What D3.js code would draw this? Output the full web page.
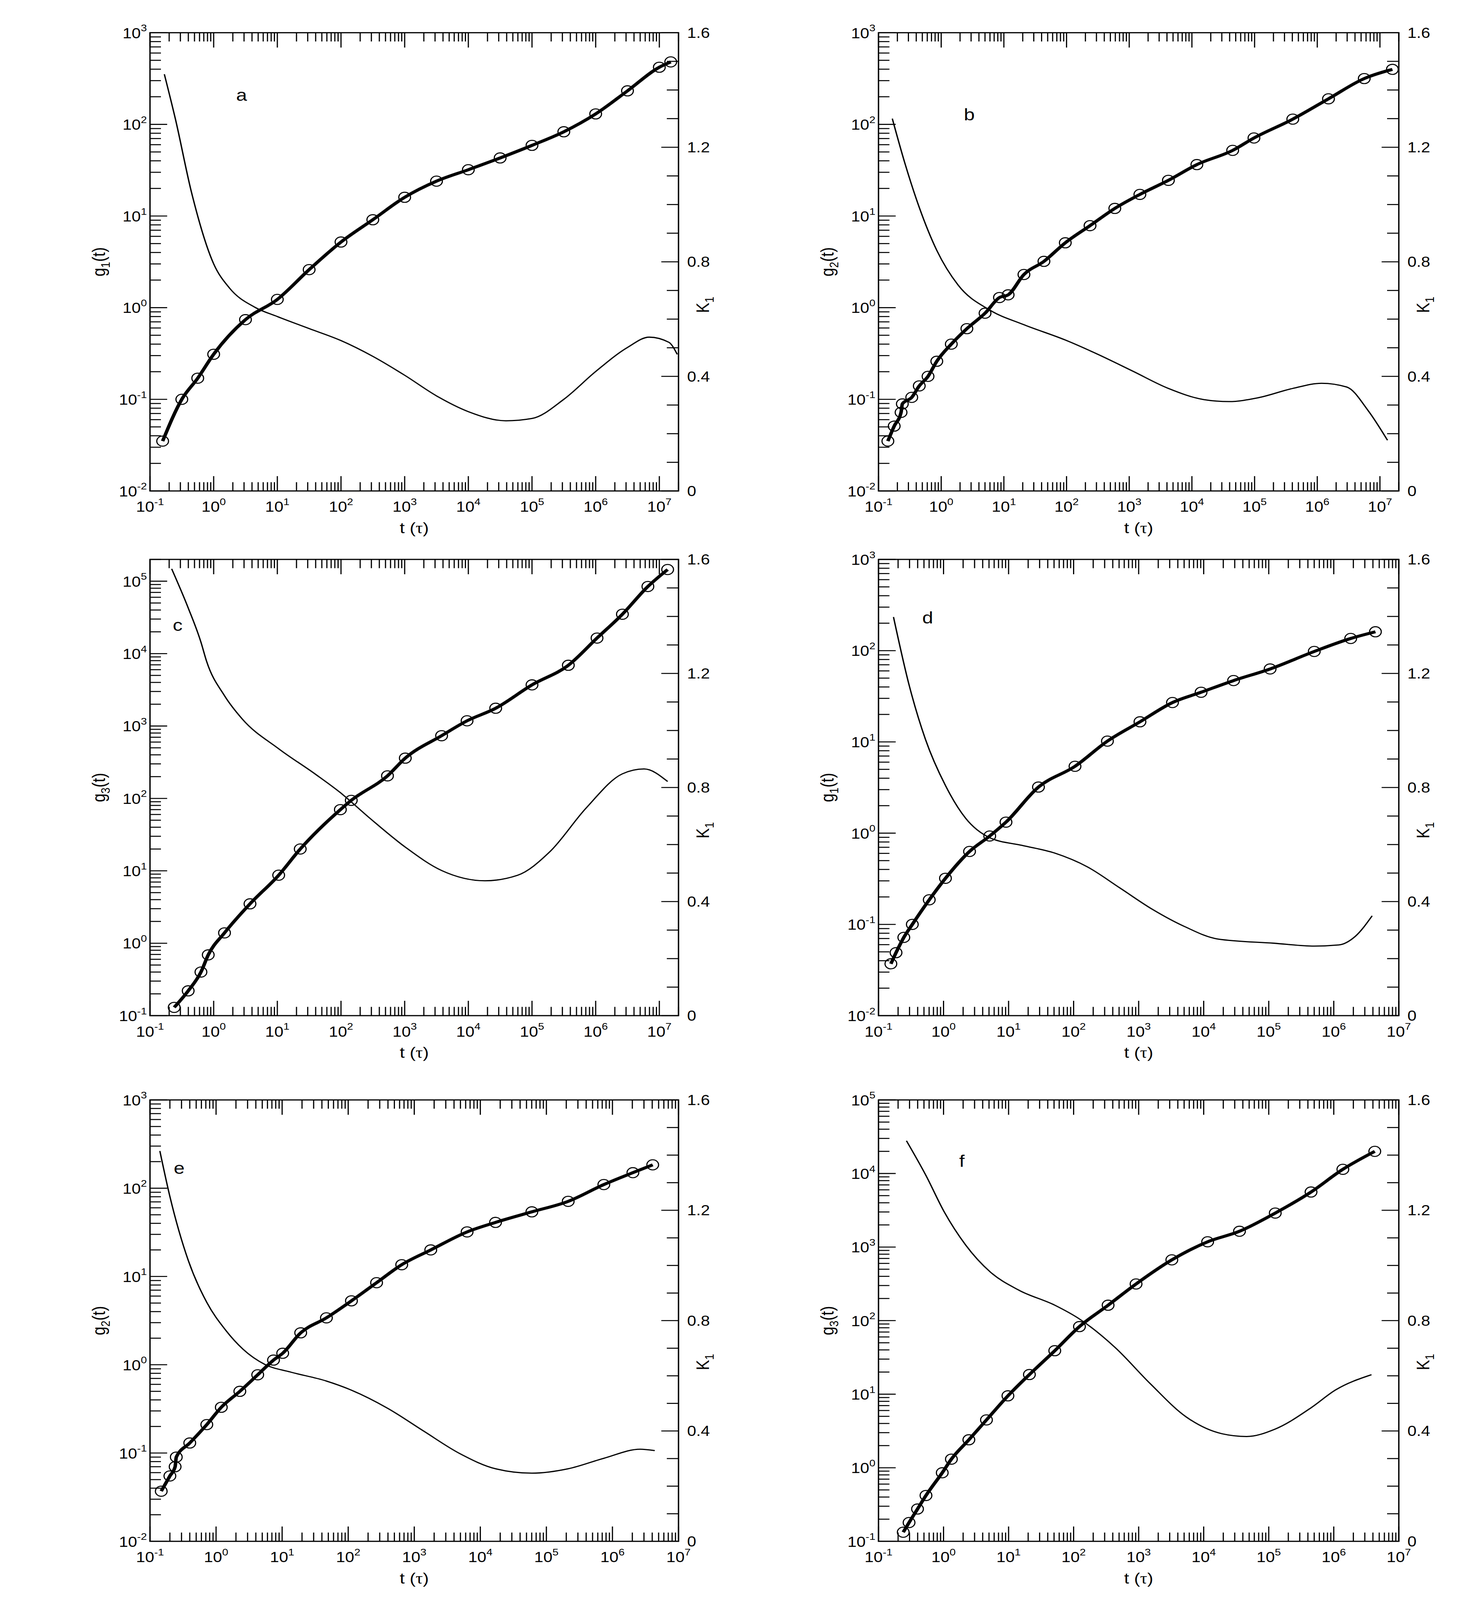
<!DOCTYPE html>
<html><head><meta charset="utf-8">
<script src="https://cdn.jsdelivr.net/npm/d3@7"></script>
<style>html,body{margin:0;padding:0;background:#fff;overflow:hidden}svg{display:block;width:100vw;height:100vh}text{font-family:"Liberation Sans",Arial,sans-serif;fill:#000}</style>
</head><body><svg id="c" viewBox="0 0 3753 4745" preserveAspectRatio="none"></svg>
<script>
// ---- data ----
const panelLetters = ["a","b","c","d","e","f"];
const gLabels = ["1","2","3","1","2","3"];
const xDecades = [-1,0,1,2,3,4,5,6,7];
const kTicks = [0,0.4,0.8,1.2,1.6];

const aT = [0.158,0.316,0.562,1,3.16,10,31.6,100,316,1000,3162,1e4,3.16e4,1e5,3.16e5,1e6,3.16e6,1e7,1.51e7];
const aG = [0.035,0.1,0.17,0.31,0.74,1.23,2.6,5.2,9.1,16,24,32,43,59,83,130,232,420,480];
const aKT = [0.168,0.251,0.447,1,1.78,4.47,10,31.6,100,316,1000,3162,1e4,3.89e4,1e5,3.16e5,1e6,3.16e6,6.92e6,1.41e7,1.91e7];
const aK = [1.455,1.298,1.044,0.793,0.708,0.641,0.609,0.567,0.525,0.470,0.404,0.332,0.277,0.245,0.253,0.320,0.417,0.501,0.537,0.519,0.477];

const bT = [0.141,0.178,0.229,0.240,0.339,0.447,0.617,0.851,1.45,2.57,5.01,8.51,11.7,20.9,43.6,95.5,237,589,1479,4217,1.2e4,4.47e4,9.77e4,4.07e5,1.51e6,5.62e6,1.58e7];
const bG = [0.035,0.051,0.072,0.089,0.105,0.14,0.178,0.26,0.40,0.59,0.87,1.29,1.38,2.3,3.2,5.1,7.85,12.1,17.2,24.5,36.4,52,71,114,190,316,398];
const bKT = [0.166,0.263,0.447,0.851,1.86,6.03,20,95.5,309,1148,4217,1.55e4,3.89e4,1.12e5,4.07e5,1.17e6,2.95e6,6.46e6,1.32e7];
const bK = [1.30,1.145,0.99,0.84,0.719,0.631,0.582,0.527,0.478,0.418,0.358,0.319,0.312,0.325,0.358,0.376,0.363,0.281,0.177];

const cT = [0.24,0.398,0.631,0.822,1.48,3.72,10.5,22.9,97.7,145,537,1023,3802,9550,2.69e4,1e5,3.72e5,1.05e6,2.63e6,6.61e6,1.35e7];
const cG = [0.13,0.22,0.40,0.69,1.39,3.5,8.7,20,70,94,205,360,735,1180,1760,3700,6900,16400,35000,84500,145000];
const cKT = [0.219,0.398,0.631,0.776,1.48,2.82,10.5,38.9,97.7,275,1023,3802,1.82e4,5.89e4,1.91e5,7.08e5,2.63e6,5.75e6,1.35e7];
const cK = [1.567,1.43,1.31,1.242,1.122,1.04,0.936,0.848,0.782,0.695,0.591,0.509,0.473,0.492,0.575,0.728,0.848,0.865,0.821];

const dT = [0.155,0.186,0.245,0.331,0.603,1.07,2.51,5.13,9.12,28.8,105,331,1047,3311,9120,2.88e4,1.05e5,5.01e5,1.82e6,4.37e6];
const dG = [0.037,0.049,0.072,0.10,0.186,0.32,0.63,0.93,1.32,3.2,5.4,10.2,16.6,27,35,47,63,98,136,161];
const dKT = [0.17,0.295,0.525,1.07,2.19,5.13,16.2,51.3,162,513,1622,5129,1.62e4,1.2e5,5.01e5,1.2e6,2.14e6,3.89e6];
const dK = [1.398,1.16,0.97,0.807,0.692,0.624,0.597,0.57,0.522,0.448,0.373,0.312,0.269,0.254,0.244,0.248,0.278,0.35];

const eT = [0.148,0.2,0.24,0.25,0.4,0.724,1.2,2.29,4.27,7.41,10.2,19.1,46.8,112,269,646,1778,6310,1.7e4,6.03e4,2.14e5,7.41e5,2.04e6,4.07e6];
const eG = [0.037,0.055,0.07,0.09,0.13,0.21,0.33,0.50,0.77,1.13,1.35,2.3,3.4,5.3,8.5,13.6,20,32,41,54,71,110,150,184];
const eKT = [0.141,0.2,0.38,0.724,1.38,2.57,5.5,13.2,46.8,112,398,1380,4898,1.7e4,6.03e4,2.14e5,7.41e5,2.63e6,4.37e6];
const eK = [1.415,1.25,1.018,0.866,0.767,0.696,0.641,0.614,0.581,0.548,0.482,0.40,0.318,0.263,0.247,0.263,0.301,0.334,0.329];

const fT = [0.24,0.295,0.398,0.537,0.955,1.32,2.45,4.57,9.77,20.9,51.3,123,339,912,3236,1.15e4,3.55e4,1.26e5,4.47e5,1.38e6,4.27e6];
const fG = [0.133,0.18,0.275,0.42,0.855,1.31,2.4,4.47,9.5,18.5,39,83,162,315,670,1180,1640,2900,5600,11400,20000];
const fKT = [0.269,0.537,1.02,2.19,5.25,14.5,51.3,123,437,1514,5370,1.91e4,4.57e4,1.26e5,4.47e5,1.07e6,3.8e6];
const fK = [1.452,1.326,1.195,1.074,0.976,0.91,0.856,0.806,0.702,0.571,0.451,0.39,0.38,0.407,0.484,0.549,0.604];

const tSeries = [aT,bT,cT,dT,eT,fT], gSeries=[aG,bG,cG,dG,eG,fG];
const ktSeries = [aKT,bKT,cKT,dKT,eKT,fKT], kSeries=[aK,bK,cK,dK,eK,fK];
const xMax = [2e7,2e7,2e7,1e7,1e7,1e7];
const yDom = [[1e-2,1e3],[1e-2,1e3],[1e-1,2e5],[1e-2,1e3],[1e-2,1e3],[1e-1,1e5]];
const letterPos = [[0.163,0.135],[0.164,0.178],[0.043,0.143],[0.084,0.127],[0.045,0.154],[0.155,0.138]];

// ---- layout ----
const cols = [[384,1737],[2249,3581]];
const rows = [[97,1456],[1659,3012],[3262,4571]];
const svg = d3.select("#c");
const FS = 42;

function supLabel(sel, e){
  sel.append("tspan").text("10");
  sel.append("tspan").attr("dy",-20).attr("font-size",28).text(String(e));
}
function logTicks(lo,hi){
  const out=[];
  for(let e=Math.floor(Math.log10(lo));e<=Math.ceil(Math.log10(hi));e++)
    for(let m=1;m<=9;m++){const v=m*Math.pow(10,e); if(v>=lo*0.9999&&v<=hi*1.0001) out.push({v,major:m===1,e});}
  return out;
}

for(let i=0;i<6;i++){
  const [x0,x1]=cols[i%2], [y0,y1]=rows[Math.floor(i/2)];
  const g = svg.append("g");
  const x = d3.scaleLog().domain([0.1,xMax[i]]).range([x0,x1]);
  const y = d3.scaleLog().domain(yDom[i]).range([y1,y0]);
  const k = d3.scaleLinear().domain([0,1.6]).range([y1,y0]);

  logTicks(0.1,xMax[i]).forEach(({v,major})=>{
    const L = major?44:26;
    g.append("line").attr("x1",x(v)).attr("x2",x(v)).attr("y1",y1).attr("y2",y1-L).attr("stroke","#000").attr("stroke-width",3);
    g.append("line").attr("x1",x(v)).attr("x2",x(v)).attr("y1",y0).attr("y2",y0+L).attr("stroke","#000").attr("stroke-width",3);
  });
  xDecades.forEach(e=>{
    const t=g.append("text").attr("x",x(Math.pow(10,e))).attr("y",y1+62).attr("text-anchor","middle").attr("font-size",FS);
    supLabel(t,e);
  });
  logTicks(yDom[i][0],yDom[i][1]).forEach(({v,major,e})=>{
    g.append("line").attr("x1",x0).attr("x2",x0+(major?44:28)).attr("y1",y(v)).attr("y2",y(v)).attr("stroke","#000").attr("stroke-width",3);
    if(major){
      const t=g.append("text").attr("x",x0-8).attr("y",y(v)+16).attr("text-anchor","end").attr("font-size",FS);
      supLabel(t,e);
    }
  });
  d3.range(0,17).forEach(j=>{
    const v=j/10, major=j%4===0;
    g.append("line").attr("x1",x1).attr("x2",x1-(major?44:30)).attr("y1",k(v)).attr("y2",k(v)).attr("stroke","#000").attr("stroke-width",3);
  });
  kTicks.forEach(v=>{
    g.append("text").attr("x",x1+22).attr("y",k(v)+15).attr("font-size",FS).text(v===0?"0":v.toFixed(1));
  });
  g.append("rect").attr("x",x0).attr("y",y0).attr("width",x1-x0).attr("height",y1-y0).attr("fill","none").attr("stroke","#000").attr("stroke-width",3.5);

  const tx=g.append("text").attr("x",(x0+x1)/2).attr("y",y1+125).attr("text-anchor","middle").attr("font-size",46);
  tx.append("tspan").text("t (");
  tx.append("tspan").attr("font-family","Liberation Serif, serif").text("τ");
  tx.append("tspan").text(")");
  const gl=g.append("text").attr("transform",`translate(${x0-115},${(y0+y1)/2}) rotate(-90)`).attr("text-anchor","middle").attr("font-size",46);
  gl.append("tspan").text("g");
  gl.append("tspan").attr("dy",12).attr("font-size",32).text(gLabels[i]);
  gl.append("tspan").attr("dy",-12).text("(t)");
  const kl=g.append("text").attr("transform",`translate(${x1+78},${k(0.65)}) rotate(-90)`).attr("text-anchor","middle").attr("font-size",46);
  kl.append("tspan").text("K");
  kl.append("tspan").attr("dy",12).attr("font-size",32).text("1");

  g.append("text").attr("x",x0+letterPos[i][0]*(x1-x0)).attr("y",y0+letterPos[i][1]*(y1-y0)+18).attr("font-size",50).text(panelLetters[i]);

  const kd = ktSeries[i].map((t,j)=>[t,kSeries[i][j]]);
  g.append("path").attr("d",d3.line().x(d=>x(d[0])).y(d=>k(d[1])).curve(d3.curveMonotoneX)(kd))
    .attr("fill","none").attr("stroke","#000").attr("stroke-width",3.5);
  const gd = tSeries[i].map((t,j)=>[t,gSeries[i][j]]);
  g.append("path").attr("d",d3.line().x(d=>x(d[0])).y(d=>y(d[1])).curve(d3.curveMonotoneX)(gd))
    .attr("fill","none").attr("stroke","#000").attr("stroke-width",9);
  g.selectAll("circle").data(gd).join("circle").attr("cx",d=>x(d[0])).attr("cy",d=>y(d[1])).attr("r",15)
    .attr("fill","none").attr("stroke","#000").attr("stroke-width",3);
}
</script></body></html>
